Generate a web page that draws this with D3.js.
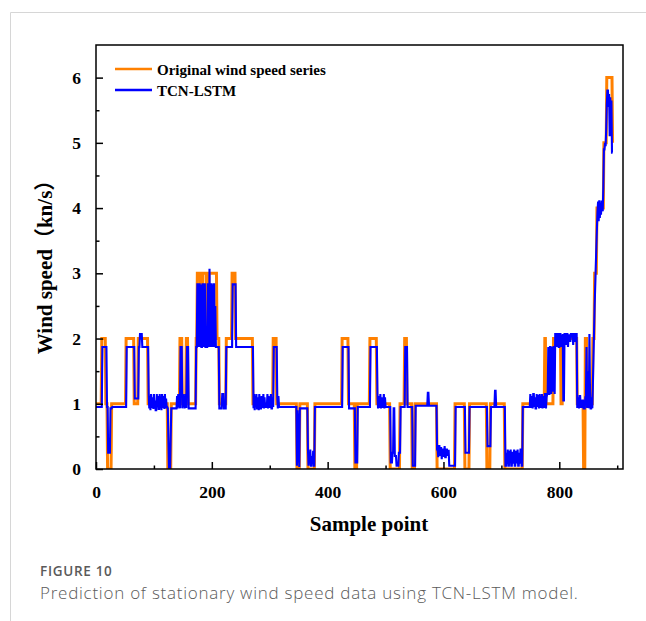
<!DOCTYPE html>
<html>
<head>
<meta charset="utf-8">
<script src="https://cdn.jsdelivr.net/npm/d3@7"></script>
<style>
  html, body { margin: 0; padding: 0; background: #fff; }
  svg { display: block; }
</style>
</head>
<body>
<svg id="chart" width="646" height="621"></svg>
<script>
// Observed wind speed, as [value, number of consecutive samples]
const originalRuns = [
  [1,10],[2,7],[1,3],[0,7],[1,25],[2,14],[1,7],[2,17],[1,34],[0,6],
  [1,15],[2,4],[1,7],[2,3],[1,14],[2,2],[3,6],[2,3],[3,7],[2,4],
  [3,14],[2,4],[1,12],[2,10],[3,6],[2,30],[1,35],[2,6],[1,35],[0,5],
  [1,14],[0,12],[1,47],[2,11],[1,11],[0,4],[1,22],[2,12],[1,23],[0,17],
  [1,8],[2,4],[1,9],[0,5],[1,38],[0,31],[1,17],[0,8],[1,30],[0,6],
  [1,25],[0,31],[1,38],[2,2],[1,13],[2,13],[1,3],[2,25],[1,11],[0,3],
  [2,3],[1,10],[2,3],[3,4],[4,12],[5,5],[6,10],[5,1]
];

// TCN-LSTM prediction, as [value, number of consecutive samples]
const predictedRuns = [
  [0.95,11],[1.87,8],[0.95,2],[0.25,4],[0.93,3],[0.95,25],[1.87,14],[1.08,7],[1.87,2],[2.07,4],[1.87,11],
  [1.15,1],[0.93,1],[1.12,1],[0.9,1],[1.15,1],[0.95,2],[1.1,1],[0.92,1],[1.15,1],[0.93,1],[1.05,1],[0.9,2],
  [1.15,1],[0.95,1],[1.12,1],[0.92,2],[1.15,1],[0.93,1],[1.1,1],[0.9,1],[1.15,1],[0.95,2],[1.12,1],[0.92,1],
  [1.15,1],[0.93,1],[1.08,1],[0.95,2],[0.93,1],
  [0.45,1],[0.02,3],[0.5,1],[0.93,10],
  [1.12,1],[0.93,1],[1.15,1],[0.95,1],[1.1,1],[0.93,1],[1.87,3],
  [0.93,1],[1.15,1],[0.95,1],[1.12,1],[0.93,1],[1.15,1],[0.95,2],[1.87,3],[0.93,13],[1.87,2],
  [2.83,2],[1.87,1],[2.83,2],[1.87,1],[2.83,1],[1.87,2],
  [2.83,2],[1.87,1],[2.83,2],[1.87,2],
  [1.87,2],[2.83,2],[1.87,1],[3.07,1],[1.87,1],[2.83,2],[1.87,1],[2.83,1],[1.87,1],[2.83,2],[1.87,1],[2.5,1],[1.87,2],
  [1.87,4],[0.93,5],[1.15,3],[0.93,4],[1.87,11],[2.83,6],[1.87,30],
  [0.93,1],[1.15,1],[0.9,1],[1.12,1],[0.95,1],[1.15,1],[0.93,2],[1.1,1],[0.9,1],[1.15,1],[0.93,3],[1.12,1],
  [0.95,2],[1.15,1],[0.93,1],[1.1,1],[0.95,4],[1.15,1],[0.93,1],[1.12,1],[0.95,3],[1.15,1],[0.93,2],[1.1,1],[0.95,1],
  [1.87,6],[1.1,1],[0.93,1],[1.12,1],[0.95,31],
  [0.05,1],[0.9,1],[0.1,1],[0.85,1],[0.03,1],[0.93,14],
  [0.3,1],[0.05,1],[0.25,1],[0.1,1],[0.3,1],[0.05,2],[0.2,1],[0.08,1],[0.28,1],[0.05,2],
  [0.95,48],[1.87,11],[0.93,11],[0.1,4],[0.95,22],[1.87,12],
  [1.15,1],[0.93,1],[1.12,1],[0.95,2],[1.15,1],[0.93,1],[1.1,1],[0.95,3],[1.15,1],[0.93,1],[1.1,1],[0.95,2],
  [0.95,7],[0.1,3],[0.25,2],[0.93,2],[0.2,3],[0.05,4],[0.25,3],
  [0.95,8],[1.87,4],[0.95,9],[0.05,5],[0.97,21],[1.17,2],[0.97,14],
  [0.3,2],[0.18,1],[0.35,2],[0.2,1],[0.32,2],[0.15,1],[0.3,2],[0.2,2],[0.35,1],[0.18,2],[0.3,2],[0.2,1],[0.28,2],
  [0.05,11],[0.95,17],[0.25,7],[0.95,31],[0.35,6],[0.95,7],[1.2,2],[0.95,16],
  [0.05,2],[0.25,1],[0.08,1],[0.3,1],[0.05,2],[0.28,1],[0.1,1],[0.3,1],[0.05,2],[0.25,2],[0.08,1],
  [0.3,1],[0.05,2],[0.28,1],[0.1,2],[0.3,1],[0.05,2],[0.25,1],[0.08,1],[0.3,2],[0.05,2],
  [0.95,13],
  [1.15,1],[0.95,2],[1.12,1],[0.93,1],[1.15,2],[0.95,1],[1.1,1],[0.93,2],[1.15,1],[0.95,1],[1.12,2],
  [0.93,1],[1.15,1],[0.95,3],[1.15,1],[0.93,1],[1.12,1],[0.95,2],[1.15,2],[0.93,1],[1.1,1],[1.15,2],
  [1.87,1],[1.15,2],[1.87,2],[1.15,1],[1.87,1],[1.2,2],[1.87,2],[1.15,1],
  [2.07,3],[1.87,1],[2.07,2],[1.87,2],[2.07,2],[1.87,1],[2.05,1],[1.87,1],[2.07,1],[1.05,2],[2.07,3],
  [1.9,1],[2.07,2],[1.87,1],[2.05,3],[1.95,1],[2.07,4],[1.9,1],[2.07,3],[1.95,1],[2.07,2],
  [0.95,2],[1.1,1],[0.93,1],[1.12,2],[0.95,3],[1.05,2],[0.93,3],[1.1,2],
  [1.87,1],[0.95,2],[1.5,1],[0.93,1],[2.07,1],[1.2,1],[0.93,2],[1.1,1],[0.93,1],
  [1.3,1],[1.7,1],[2.1,1],[2.5,1],[2.8,1],[3.1,1],[3.4,1],[3.7,1],[3.95,1],
  [4.1,1],[3.8,1],[4.12,1],[3.85,1],[4.08,1],[3.9,1],[4.1,2],[3.95,1],[4.3,1],
  [4.9,2],[5.0,1],[4.95,1],[5.2,1],
  [5.6,1],[5.8,2],[5.55,1],[5.75,1],[5.1,1],[5.7,1],[5.2,1],[5.65,1],[4.85,2]
];

const seriesNames = ["Original wind speed series", "TCN-LSTM"];
const seriesColors = ["#ff8000", "#0000ff"];
const xMajorTicks = [0, 200, 400, 600, 800];
const xMinorTicks = [100, 300, 500, 700, 900];
const yMajorTicks = [0, 1, 2, 3, 4, 5, 6];
const yMinorTicks = [0.5, 1.5, 2.5, 3.5, 4.5, 5.5];
const xDomain = [0, 910];
const yDomain = [0, 6.5];

// Expand [value, count] runs into one value per sample point
function expand(runs) {
  const out = [];
  runs.forEach(([v, n]) => { for (let i = 0; i < n; i++) out.push(v); });
  return out.map((v, i) => ({ x: i, y: v }));
}

const svg = d3.select("#chart");
const serif = "'Liberation Serif', 'Times New Roman', 'Noto Sans CJK SC', serif";

// card border
svg.append("path")
  .attr("d", "M10.5,621 V12.5 H646")
  .attr("fill", "none").attr("stroke", "#d6d6d6").attr("stroke-width", 1);

const plotLeft = 96, plotRight = 623, plotTop = 45, plotBottom = 469;
const x = d3.scaleLinear().domain(xDomain).range([plotLeft, plotRight]);
const y = d3.scaleLinear().domain(yDomain).range([plotBottom, plotTop]);

const clipId = "plot-clip";
svg.append("clipPath").attr("id", clipId)
  .append("rect").attr("x", plotLeft).attr("y", plotTop - 2)
  .attr("width", plotRight - plotLeft).attr("height", plotBottom - plotTop + 2);

const line = d3.line().x(d => x(d.x)).y(d => y(d.y));
const plot = svg.append("g").attr("clip-path", `url(#${clipId})`);

plot.append("path").datum(expand(originalRuns))
  .attr("d", line).attr("fill", "none")
  .attr("stroke", seriesColors[0]).attr("stroke-width", 3)
  .attr("stroke-linejoin", "miter");

plot.append("path").datum(expand(predictedRuns))
  .attr("d", line).attr("fill", "none")
  .attr("stroke", seriesColors[1]).attr("stroke-width", 2.1)
  .attr("stroke-linejoin", "miter");

// axes with inward ticks
const xAxis = svg.append("g").attr("transform", `translate(0,${plotBottom})`)
  .call(d3.axisBottom(x).tickValues(xMajorTicks).tickSizeInner(-7).tickSizeOuter(0).tickPadding(17).tickFormat(d3.format("d")));
const xMinor = svg.append("g").attr("transform", `translate(0,${plotBottom})`)
  .call(d3.axisBottom(x).tickValues(xMinorTicks).tickSizeInner(-3.5).tickSizeOuter(0).tickFormat(""));
const yAxis = svg.append("g").attr("transform", `translate(${plotLeft},0)`)
  .call(d3.axisLeft(y).tickValues(yMajorTicks).tickSizeInner(-7).tickSizeOuter(0).tickPadding(15).tickFormat(d3.format("d")));
const yMinor = svg.append("g").attr("transform", `translate(${plotLeft},0)`)
  .call(d3.axisLeft(y).tickValues(yMinorTicks).tickSizeInner(-3.5).tickSizeOuter(0).tickFormat(""));

[xAxis, xMinor, yAxis, yMinor].forEach(g => {
  g.attr("font-family", serif);
  g.select(".domain").remove();
  g.selectAll(".tick line").attr("stroke", "#000").attr("stroke-width", 1.5);
  g.selectAll(".tick text")
    .style("font-family", serif).style("font-weight", "bold")
    .style("font-size", "17.5px").attr("fill", "#000");
});

// frame
svg.append("rect")
  .attr("x", plotLeft).attr("y", plotTop)
  .attr("width", plotRight - plotLeft).attr("height", plotBottom - plotTop)
  .attr("fill", "none").attr("stroke", "#000").attr("stroke-width", 1.5);

// axis titles
svg.append("text")
  .attr("x", 369).attr("y", 531).attr("text-anchor", "middle")
  .attr("font-family", serif).attr("font-weight", "bold").attr("font-size", 21)
  .text("Sample point");
svg.append("text")
  .attr("transform", "translate(52,262) rotate(-90)").attr("text-anchor", "middle")
  .attr("font-family", serif).attr("font-weight", "bold").attr("font-size", 21)
  .text("Wind speed（kn/s）");

// legend
const legend = svg.append("g").attr("transform", "translate(115,69)");
seriesNames.forEach((name, i) => {
  const row = legend.append("g").attr("transform", `translate(0,${i * 21})`);
  row.append("line").attr("x1", 0).attr("x2", 37).attr("y1", 0).attr("y2", 0)
    .attr("stroke", seriesColors[i]).attr("stroke-width", 2.5);
  row.append("text").attr("x", 42).attr("y", 5.5)
    .attr("font-family", serif).attr("font-weight", "bold").attr("font-size", 15)
    .text(name);
});

// caption
svg.append("text")
  .attr("x", 40).attr("y", 576)
  .attr("font-family", "'Open Sans', 'Noto Sans', sans-serif").attr("font-weight", 600)
  .attr("font-size", 13.5).attr("letter-spacing", 0.7).attr("fill", "#5a5a5a")
  .text("FIGURE 10");
svg.append("text")
  .attr("x", 40).attr("y", 599)
  .attr("font-family", "'Open Sans', 'Noto Sans', sans-serif").attr("font-weight", 300)
  .attr("font-size", 17).attr("letter-spacing", 0.75).attr("fill", "#5a5a5a")
  .text("Prediction of stationary wind speed data using TCN-LSTM model.");
</script>
</body>
</html>
